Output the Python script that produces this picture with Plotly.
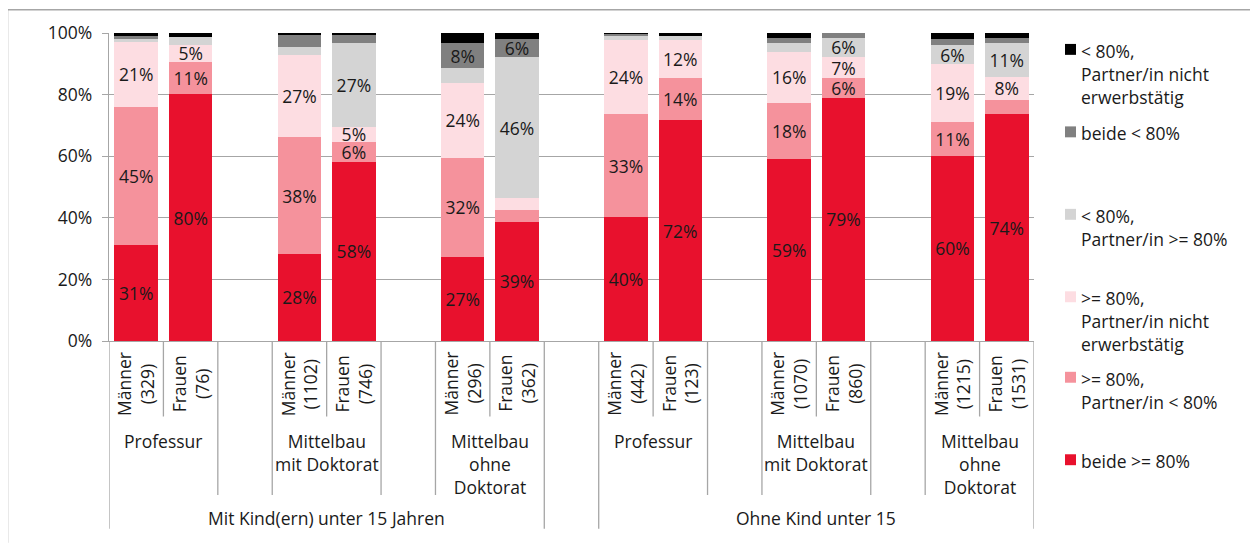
import plotly.graph_objects as go

# ---------------- data ----------------
supergroups = ["Mit Kind(ern) unter 15 Jahren", "Ohne Kind unter 15"]
groups = ["Professur", "Mittelbau<br>mit Doktorat", "Mittelbau<br>ohne<br>Doktorat"]
bar_labels = [
    "Männer<br>(329)", "Frauen<br>(76)",
    "Männer<br>(1102)", "Frauen<br>(746)",
    "Männer<br>(296)", "Frauen<br>(362)",
    "Männer<br>(442)", "Frauen<br>(123)",
    "Männer<br>(1070)", "Frauen<br>(860)",
    "Männer<br>(1215)", "Frauen<br>(1531)",
]

series_names = [
    "beide >= 80%",
    ">= 80%,<br>Partner/in < 80%",
    ">= 80%,<br>Partner/in nicht<br>erwerbstätig",
    "< 80%,<br>Partner/in >= 80%",
    "beide < 80%",
    "< 80%,<br>Partner/in nicht<br>erwerbstätig",
]
beide_ge80 =        [31.2, 80.1, 28.3, 58.2, 27.4, 38.7, 40.3, 71.6, 59.1, 79.0, 60.2, 73.6]
ge80_partner_lt80 = [44.8, 10.6, 37.8,  6.3, 32.1,  3.9, 33.3, 13.8, 18.3,  6.3, 10.9,  4.6]
ge80_partner_ne =   [21.3,  5.3, 26.7,  5.1, 24.2,  3.9, 24.2, 12.2, 16.4,  6.9, 18.9,  7.6]
lt80_partner_ge80 = [ 0.6,  2.7,  2.7, 27.3,  4.8, 45.6,  1.2,  1.4,  3.0,  6.3,  6.0, 11.1]
beide_lt80 =        [ 1.0,  0.0,  3.7,  2.7,  8.3,  5.8,  0.7,  0.0,  1.6,  1.5,  1.9,  1.5]
lt80_partner_ne =   [ 1.1,  1.3,  0.8,  0.4,  3.2,  2.1,  0.3,  1.0,  1.6,  0.0,  2.1,  1.6]

series_values = [beide_ge80, ge80_partner_lt80, ge80_partner_ne,
                 lt80_partner_ge80, beide_lt80, lt80_partner_ne]
colors = ["#E8112D", "#F5929C", "#FDDDE2", "#D4D4D4", "#808080", "#000000"]

y_ticks = [0, 20, 40, 60, 80, 100]
y_tick_text = ["0%", "20%", "40%", "60%", "80%", "100%"]

# ---------------- layout helpers (coordinates in page pixels) ----------------
OFF = 8                      # default body margin of the html page
PAGE_W, PAGE_H = 1258, 544
W, H = PAGE_W - OFF, PAGE_H - OFF
PL, PR, PT, PB = 109, 1034, 31, 341   # plot area in page pixels
PW, PH = PR - PL, PB - PT
FONT = "Open Sans"
FS = 17.5
TXT = "#1a1a1a"
LINE = "#A6A6A6"


def px_x(px):
    return (px - PL) / PW


def px_y(py):
    return (PB - py) / PH


# slot positions: 3 slots per group (2 bars + gap), 9 per supergroup
positions = []
for s in range(len(supergroups)):
    for g in range(len(groups)):
        for k in range(2):
            positions.append(s * 9 + g * 3 + k)

fig = go.Figure()
for name, vals, col in zip(series_names, series_values, colors):
    texts = [f"{round(v)}%" if v >= 5 else "" for v in vals]
    fig.add_trace(go.Bar(
        x=positions, y=vals, name=name, marker=dict(color=col, line=dict(width=0)),
        text=texts, texttemplate="%{text}", textposition="inside",
        insidetextanchor="middle", textangle=0,
        textfont=dict(family=FONT, size=FS, color=TXT),
        showlegend=False, hoverinfo="skip",
    ))

shapes = []
annotations = []

# rotated bar labels
for pos, lab in zip(positions, bar_labels):
    annotations.append(dict(
        x=pos, y=px_y(384), xref="x", yref="paper", text=lab, textangle=-90,
        showarrow=False, align="center", xanchor="center", yanchor="middle",
        font=dict(family=FONT, size=FS, color=TXT),
    ))

# separator lines and group labels
y_short, y_mid, y_long = px_y(417), px_y(496), px_y(530)
for s in range(len(supergroups)):
    base = s * 9
    for g, gname in enumerate(groups):
        m = base + g * 3
        left_end = y_long if g == 0 else y_mid
        right_end = y_long if g == len(groups) - 1 else y_mid
        for xv, yend in [(m - 0.5, left_end), (m + 0.5, y_short), (m + 1.5, right_end)]:
            shapes.append(dict(type="line", xref="x", yref="paper", x0=xv, x1=xv,
                               y0=0, y1=yend, line=dict(color=LINE, width=1.3)))
        annotations.append(dict(
            x=m + 0.5, y=px_y(428), xref="x", yref="paper", text=gname,
            showarrow=False, align="center", xanchor="center", yanchor="top",
            font=dict(family=FONT, size=FS, color=TXT),
        ))
    annotations.append(dict(
        x=base + 3.5, y=px_y(519), xref="x", yref="paper", text=supergroups[s],
        showarrow=False, xanchor="center", yanchor="middle",
        font=dict(family=FONT, size=FS, color=TXT),
    ))

# custom legend
legend_tops = [47, 130, 213, 296, 377, 460]
for name, col, ty in zip(series_names[::-1], colors[::-1], legend_tops):
    shapes.append(dict(type="rect", xref="paper", yref="paper",
                       x0=px_x(1065), x1=px_x(1076), y0=px_y(ty - 5), y1=px_y(ty + 6),
                       fillcolor=col, line=dict(width=0)))
    annotations.append(dict(
        x=px_x(1079), y=px_y(ty - 12), xref="paper", yref="paper", text=name,
        showarrow=False, align="left", xanchor="left", yanchor="top",
        font=dict(family=FONT, size=FS, color=TXT),
    ))

# outer frame (top and left)
shapes.append(dict(type="line", xref="paper", yref="paper",
                   x0=px_x(7), x1=px_x(1258), y0=px_y(7.5), y1=px_y(7.5),
                   line=dict(color=LINE, width=1.5)))
shapes.append(dict(type="line", xref="paper", yref="paper",
                   x0=px_x(7.5), x1=px_x(7.5), y0=px_y(7), y1=px_y(544),
                   line=dict(color=LINE, width=1.5)))

fig.update_layout(
    width=W, height=H, autosize=False,
    margin=dict(l=PL - OFF, r=PAGE_W - PR, t=PT - OFF, b=PAGE_H - PB, pad=0),
    barmode="stack", bargap=0.2,
    plot_bgcolor="white", paper_bgcolor="white",
    font=dict(family=FONT, size=FS, color=TXT),
    uniformtext=dict(minsize=FS, mode="show"),
    shapes=shapes, annotations=annotations,
    xaxis=dict(range=[-0.5, 16.5], showticklabels=False, showgrid=False,
               zeroline=False, showline=True, linecolor=LINE, linewidth=1.3,
               ticks=""),
    yaxis=dict(range=[0, 100], tickmode="array", tickvals=y_ticks, ticktext=y_tick_text,
               showgrid=True, gridcolor=LINE, gridwidth=1.3, zeroline=False,
               showline=True, linecolor=LINE, linewidth=1.3,
               ticks="outside", ticklen=6, tickcolor=LINE, tickwidth=1.3,
               ticklabelstandoff=6,
               tickfont=dict(family=FONT, size=FS, color=TXT)),
)

fig.write_html("out.html")
